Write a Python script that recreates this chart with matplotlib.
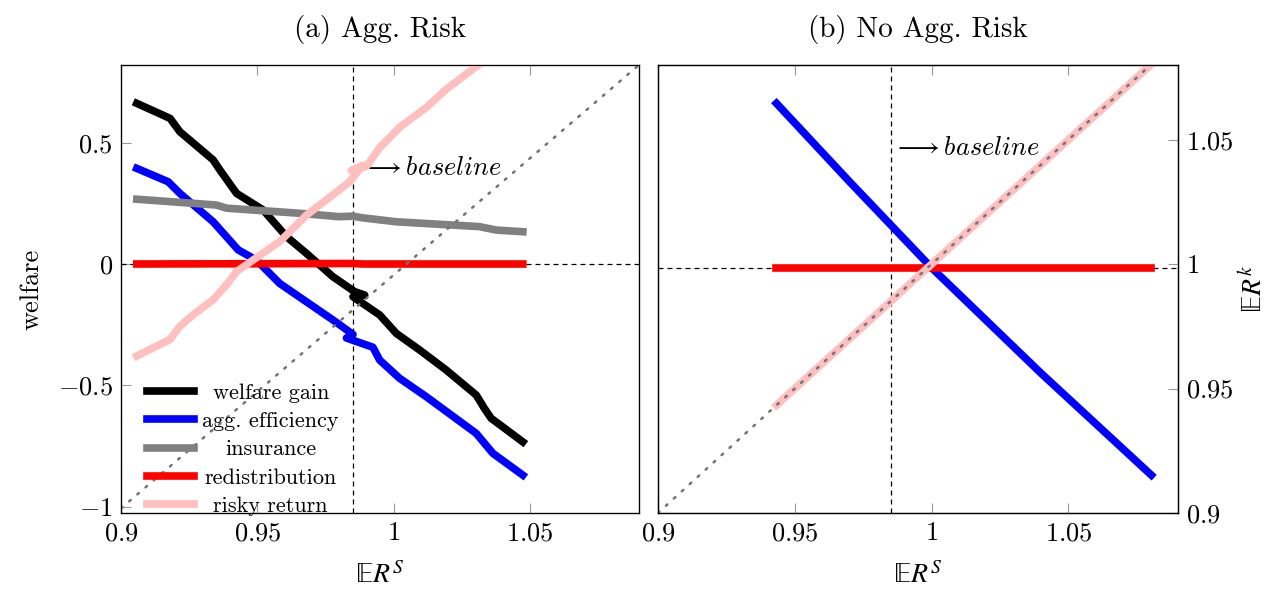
import matplotlib
matplotlib.use("Agg")
import matplotlib.pyplot as plt

plt.rcParams['font.family'] = 'serif'
plt.rcParams['font.serif'] = ['cmr10']
plt.rcParams['mathtext.fontset'] = 'cm'
plt.rcParams['axes.formatter.use_mathtext'] = True
plt.rcParams['axes.unicode_minus'] = False

# ---- panel (a): aggregate risk ----
gain_x = [0.9058, 0.918, 0.9216, 0.9338, 0.9363, 0.9424, 0.9521, 0.9607, 0.968, 0.9777,
          0.9857, 0.9894, 0.9851, 0.9949, 1.001, 1.0095, 1.0193, 1.0303, 1.0333, 1.0358,
          1.040, 1.0474]
gain_y = [0.662, 0.600, 0.545, 0.429, 0.387, 0.291, 0.223, 0.113, 0.044, -0.052,
          -0.114, -0.128, -0.135, -0.210, -0.286, -0.354, -0.437, -0.540, -0.595, -0.636,
          -0.671, -0.733]

eff_x = [0.9058, 0.9173, 0.9216, 0.9338, 0.943, 0.9497, 0.9582, 0.9778, 0.9851,
         0.9827, 0.9924, 0.9949, 1.0022, 1.012, 1.0303, 1.0364, 1.0474]
eff_y = [0.394, 0.339, 0.291, 0.174, 0.058, 0.016, -0.080, -0.231, -0.290,
         -0.305, -0.343, -0.396, -0.471, -0.547, -0.698, -0.780, -0.870]

ins_x = [0.9058, 0.935, 0.9387, 0.9656, 0.980, 0.985, 0.9888, 1.001, 1.0315, 1.0376, 1.0474]
ins_y = [0.267, 0.243, 0.230, 0.209, 0.195, 0.197, 0.190, 0.174, 0.154, 0.140, 0.133]

red_x = [0.9058, 0.985, 0.9888, 1.0474]
red_y = [0.0, 0.002, 0.0, 0.0]

rr_x = [0.9058, 0.918, 0.9216, 0.9265, 0.9338, 0.9387, 0.9424, 0.9582, 0.968, 0.9839,
        0.9886, 0.9845, 0.990, 0.9949, 1.0022, 1.012, 1.0193, 1.0297, 1.048]
rr_y = [0.9653, 0.9724, 0.978, 0.983, 0.9894, 0.9958, 1.0015, 1.0143, 1.0256, 1.040,
        1.047, 1.0448, 1.0465, 1.0546, 1.0633, 1.0718, 1.0796, 1.0888, 1.104]

# ---- panel (b): no aggregate risk ----
nr_x = [0.9433, 0.97, 1.0, 1.04, 1.0803]
nr_eff = [0.678, 0.355, 0.0, -0.435, -0.855]
nr_red = [0.0, 0.0, 0.0, 0.0, 0.0]
nr_rr = [0.9433, 0.97, 1.0, 1.04, 1.0803]

diag = [0.9, 1.09]
baseline = 0.985

xtick_vals = [0.9, 0.95, 1.0, 1.05]
xtick_labels = ['$0.9$', '$0.95$', '$1$', '$1.05$']
wtick_vals = [-1, -0.5, 0, 0.5]
wtick_labels = ['$-1$', '$-0.5$', '$0$', '$0.5$']
ktick_vals = [0.9, 0.95, 1.0, 1.05]
ktick_labels = ['$0.9$', '$0.95$', '$1$', '$1.05$']

LW = 5.5
PINK = '#ffbfbf'
FS = 19
ERS = r'$\mathrm{\mathbb{E}}R^S$'
ERK = r'$\mathrm{\mathbb{E}}R^k$'


def style_ticks(ax):
    ax.tick_params(direction='in', length=7, width=0.8, color='0.6',
                   labelsize=FS, pad=6)
    for s in ax.spines.values():
        s.set_linewidth(0.9)


def main():
    fig = plt.figure(figsize=(12.67, 5.91), dpi=100)
    ax1 = fig.add_axes([0.0955, 0.132, 0.4088, 0.758])
    ax2 = fig.add_axes([0.5193, 0.132, 0.4104, 0.758])
    ax1t = ax1.twinx()
    ax2t = ax2.twinx()

    # left panel
    ax1.axvline(baseline, color='black', lw=0.9, ls=(0, (4, 3.2)))
    ax1.axhline(0, color='black', lw=0.9, ls=(0, (4, 3.2)))
    l1, = ax1.plot(gain_x, gain_y, color='black', lw=LW, label='welfare gain')
    l2, = ax1.plot(eff_x, eff_y, color='blue', lw=LW, label='agg. efficiency')
    l3, = ax1.plot(ins_x, ins_y, color='gray', lw=LW, label='insurance')
    l4, = ax1.plot(red_x, red_y, color='red', lw=LW, label='redistribution')
    ax1t.plot(diag, diag, color='0.45', lw=1.8, ls=(0, (0.8, 3.5)),
              dash_capstyle='round')
    l5, = ax1t.plot(rr_x, rr_y, color=PINK, lw=LW, label='risky return')

    ax1.set_xlim(0.9, 1.09)
    ax1.set_ylim(-1.026, 0.820)
    ax1t.set_ylim(0.898, 1.09)
    ax1.set_xticks(xtick_vals)
    ax1.set_xticklabels(xtick_labels)
    ax1.set_yticks(wtick_vals)
    ax1.set_yticklabels(wtick_labels)
    style_ticks(ax1)
    ax1.tick_params(top=True)
    ax1t.set_yticks([])
    ax1.set_ylabel('welfare', fontsize=FS, labelpad=10)
    ax1.set_xlabel(ERS, fontsize=FS + 1, labelpad=12, math_fontfamily='stix')
    ax1.set_title('(a) Agg. Risk', fontsize=21, pad=20)
    ax1.text(0.986, 0.396, r'$\longrightarrow baseline$', fontsize=19,
             ha='left', va='center')

    leg = ax1t.legend(handles=[l1, l2, l3, l4, l5], loc='lower left',
                      bbox_to_anchor=(0.05, -0.007), frameon=False,
                      fontsize=16, handlelength=2.1, handletextpad=0.4,
                      labelspacing=0.395, borderpad=0, borderaxespad=0)

    # right panel
    ax2.axvline(baseline, color='black', lw=0.9, ls=(0, (4, 3.2)))
    ax2.axhline(0, color='black', lw=0.9, ls=(0, (4, 3.2)))
    ax2.plot(nr_x, nr_eff, color='blue', lw=LW)
    ax2.plot(nr_x, nr_red, color='red', lw=LW)
    ax2t.plot(nr_x, nr_rr, color=PINK, lw=LW)
    ax2t.plot([0.9, 1.08], [0.9, 1.08], color='0.45', lw=1.8, ls=(0, (0.8, 3.5)),
              dash_capstyle='round')

    ax2.set_xlim(0.9, 1.09)
    ax2.set_ylim(-1.011, 0.836)
    ax2t.set_ylim(0.9, 1.08)
    ax2.set_xticks(xtick_vals)
    ax2.set_xticklabels(xtick_labels)
    ax2.set_yticks([])
    ax2t.set_yticks(ktick_vals)
    ax2t.set_yticklabels(ktick_labels)
    style_ticks(ax2)
    style_ticks(ax2t)
    ax2.tick_params(top=True)
    ax2t.set_ylabel(ERK, fontsize=FS + 1, labelpad=4, math_fontfamily='stix')
    ax2.set_xlabel(ERS, fontsize=FS + 1, labelpad=12, math_fontfamily='stix')
    ax2.set_title('(b) No Agg. Risk', fontsize=21, pad=20)
    ax2.text(0.9858, 0.493, r'$\longrightarrow baseline$', fontsize=19,
             ha='left', va='center')

    # centre the legend labels like the original
    fig.canvas.draw()
    r = fig.canvas.get_renderer()
    texts = leg.get_texts()
    widths = [t.get_window_extent(r).width for t in texts]
    wmax = max(widths)
    for t, w in zip(texts, widths):
        t.set_x((wmax - w) / 2)

    fig.savefig('out.png', dpi=100)


if __name__ == '__main__':
    main()
